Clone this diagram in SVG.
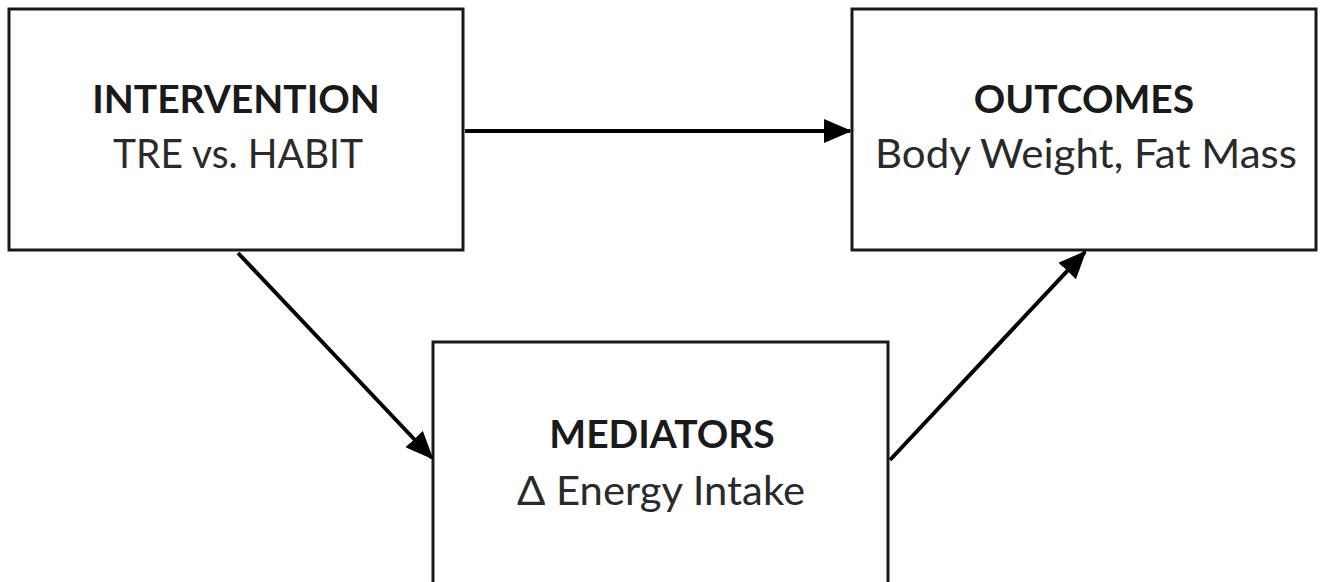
<svg xmlns="http://www.w3.org/2000/svg" width="1326" height="582" viewBox="0 0 1326 582">
<style>
.box{fill:#fff;stroke:#1a1a1a;stroke-width:3}
.t1{font-family:Lato,"Open Sans",sans-serif;font-weight:bold;font-size:39px;fill:#1a1a1a;text-anchor:middle}
.t2{font-family:Lato,"Open Sans",sans-serif;font-size:41px;fill:#2a2a2a;text-anchor:middle}
.conn{stroke:#000;stroke-width:4;fill:none;marker-end:url(#ah)}
</style>
<defs>
<marker id="ah" markerWidth="7" markerHeight="6" refX="6.5" refY="3" orient="auto" markerUnits="strokeWidth">
<path d="M0,0 L7,3 L0,6 Z" fill="#000"/>
</marker>
</defs>
<rect width="1326" height="582" fill="#fff"/>
<g id="intervention">
<rect class="box" x="9" y="9" width="454" height="241"/>
<text class="t1" x="236" y="113">INTERVENTION</text>
<text class="t2" x="238" y="168" textLength="250" lengthAdjust="spacingAndGlyphs">TRE vs. HABIT</text>
</g>
<g id="outcomes">
<rect class="box" x="852" y="9" width="464" height="241"/>
<text class="t1" x="1084" y="113">OUTCOMES</text>
<text class="t2" x="1086" y="168" textLength="422" lengthAdjust="spacingAndGlyphs">Body Weight, Fat Mass</text>
</g>
<g id="mediators">
<rect class="box" x="433" y="342" width="455" height="250"/>
<text class="t1" x="662" y="448">MEDIATORS</text>
<text class="t2" x="661" y="505" textLength="288" lengthAdjust="spacingAndGlyphs">Δ Energy Intake</text>
</g>
<g id="connectors">
<line class="conn" x1="465" y1="131" x2="850" y2="131"/>
<line class="conn" x1="238" y1="253" x2="432" y2="458"/>
<line class="conn" x1="890" y1="460" x2="1085" y2="252"/>
</g>
</svg>
